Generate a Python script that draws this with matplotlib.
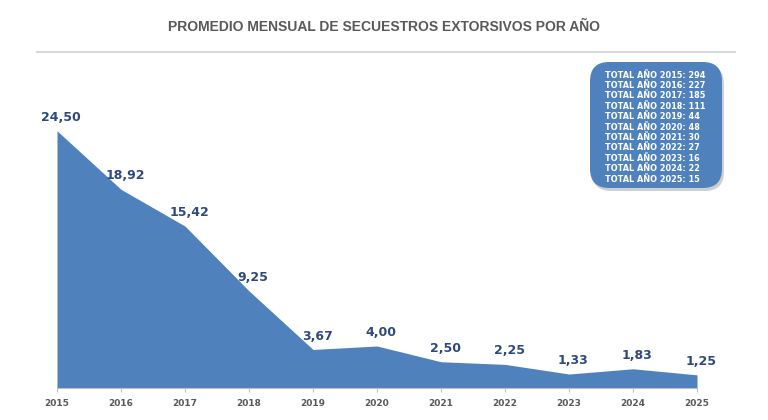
import matplotlib.pyplot as plt
from matplotlib.patches import FancyBboxPatch
from matplotlib.lines import Line2D

years = [2015, 2016, 2017, 2018, 2019, 2020, 2021, 2022, 2023, 2024, 2025]
promedio = [24.50, 18.92, 15.42, 9.25, 3.67, 4.00, 2.50, 2.25, 1.33, 1.83, 1.25]
totales = [294, 227, 185, 111, 44, 48, 30, 27, 16, 22, 15]

blue = '#4F81BD'
navy = '#2E4A7D'
gray = '#595959'

W, H = 768, 420
fig = plt.figure(figsize=(W / 100, H / 100), dpi=100)
ax = fig.add_axes([57 / W, 32 / H, 640 / W, 336 / H])

ax.fill_between(years, promedio, 0, color=blue, linewidth=0)
ax.set_xlim(2015, 2025)
ax.set_ylim(0, 32)
ax.set_xticks(years)
ax.set_xticklabels([str(y) for y in years], fontsize=6.5, fontweight='bold', color=gray)
ax.set_yticks([])
ax.tick_params(axis='x', length=3, color='#BFBFBF', pad=5)
for s in ['top', 'left', 'right']:
    ax.spines[s].set_visible(False)
ax.spines['bottom'].set_color('#BFBFBF')
ax.spines['bottom'].set_linewidth(0.8)

for x, v in zip(years, promedio):
    ax.annotate(f'{v:.2f}'.replace('.', ','), (x, v), xytext=(3, 5),
                textcoords='offset points', ha='center', va='bottom',
                fontsize=9, fontweight='bold', color=navy)

fig.text(0.5, 1 - 27 / H, 'PROMEDIO MENSUAL DE SECUESTROS EXTORSIVOS POR AÑO',
         ha='center', va='center', fontsize=10, fontweight='bold', color=gray,
         family='Liberation Sans')
fig.add_artist(Line2D([37 / W, 735 / W], [1 - 52 / H, 1 - 52 / H],
                      color='#D9D9D9', linewidth=1.5))

# caja de totales
bx, by, bw, bh = 590 / W, 1 - 188 / H, 132 / W, 126 / H
shadow = FancyBboxPatch((bx + 2 / W, by - 3 / H), bw, bh,
                        boxstyle='round,pad=0,rounding_size=0.025',
                        transform=fig.transFigure, facecolor='#A0A0A0',
                        edgecolor='none', alpha=0.5, mutation_aspect=W / H)
box = FancyBboxPatch((bx, by), bw, bh,
                     boxstyle='round,pad=0,rounding_size=0.025',
                     transform=fig.transFigure, facecolor=blue,
                     edgecolor='none', mutation_aspect=W / H)
fig.add_artist(shadow)
fig.add_artist(box)
for i, (y, t) in enumerate(zip(years, totales)):
    fig.text(605 / W, 1 - (75 + i * 10.4) / H, f'TOTAL AÑO {y}: {t}',
             ha='left', va='center', fontsize=5.9, fontweight='bold', color='white')

fig.savefig('out.png', dpi=100)
